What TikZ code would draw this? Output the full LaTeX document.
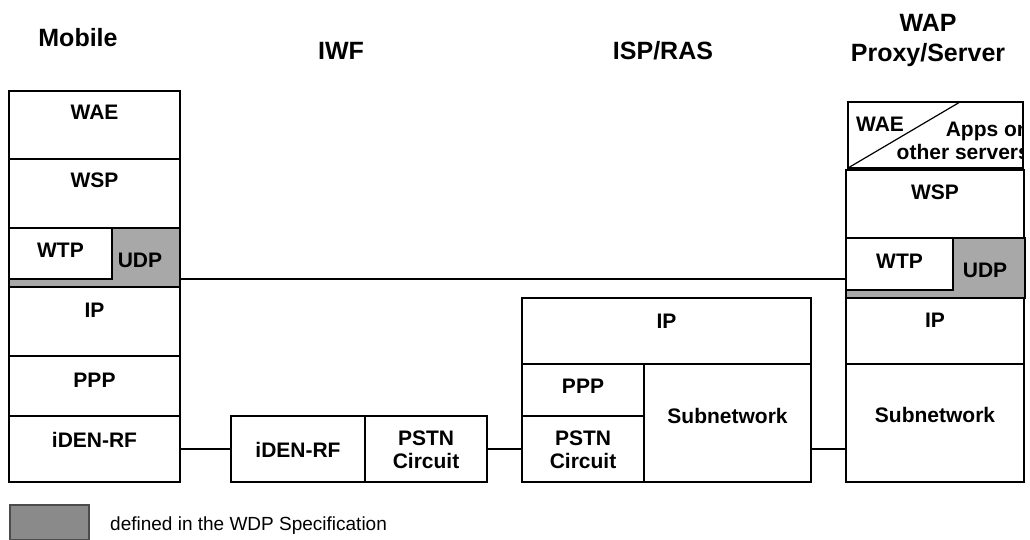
\documentclass[tikz,border=0pt]{standalone}
\usepackage{fontspec}
\setmainfont{Liberation Sans}
\usetikzlibrary{fit,calc,positioning}
\definecolor{udpgray}{RGB}{168,168,168}
\definecolor{keygray}{RGB}{138,138,138}

\tikzset{
  layer/.style={draw, fill=white, line width=1.4pt, inner sep=0pt, outer sep=0pt},
  wdp/.style={layer, fill=udpgray},
  lbl/.style={font=\bfseries\fontsize{21}{23}\selectfont, anchor=base, align=center, inner sep=0pt},
  head/.style={font=\bfseries\fontsize{25}{30}\selectfont, anchor=base, align=center, inner sep=0pt},
  link/.style={line width=1.2pt}
}

% a protocol layer: name, corner, corner, text, drop of the (last) baseline
\newcommand{\layer}[5]{%
  \node[layer, fit={(#2) (#3)}] (#1) {};
  \node[lbl] (#1-t) at ([yshift=-#5]#1.north) {#4};}

\begin{document}
\begin{tikzpicture}[x=1pt,y=-1pt]
  \useasboundingbox (0,0) rectangle (1030,540);

  \node[head] (hmob) at (78,47) {Mobile};
  \node[head] (hiwf) at (341,60) {IWF};
  \node[head] (hisp) at (663,60) {ISP/RAS};
  \node[head] (hwap) at (928,62) {WAP\\Proxy/Server};

  % mobile
  \layer{mwae}{9,91}{180,159}{WAE}{29pt}
  \layer{mwsp}{9,159}{180,228}{WSP}{29pt}
  \node[wdp, fit={(9,228) (180,287)}] (mudp) {};
  \node[lbl] (mudp-t) at (140,267) {UDP};
  \layer{mwtp}{9,228}{112,279}{WTP}{29pt}
  \layer{mip}{9,287}{180,356}{IP}{30pt}
  \layer{mppp}{9,356}{180,416}{PPP}{31pt}
  \layer{mrf}{9,416}{180,482}{iDEN-RF}{31pt}

  % IWF
  \layer{irf}{231,416}{365,482}{iDEN-RF}{41pt}
  \layer{ipstn}{365,416}{487,482}{PSTN\\Circuit}{52pt}

  % ISP/RAS
  \layer{sip}{522,298}{811,364}{IP}{30pt}
  \layer{sppp}{522,364}{644,416}{PPP}{29pt}
  \layer{spstn}{522,416}{644,482}{PSTN\\Circuit}{52pt}
  \layer{ssub}{644,364}{811,482}{Subnetwork}{59pt}

  % proxy/server
  \node[layer, fit={(848,102) (1023,168)}] (pwae) {};
  \draw[link] (pwae.south west) -- ($(pwae.north west)!0.64!(pwae.north east)$);
  \node[lbl] (pwae-t) at (880,132) {WAE};
  \begin{scope}
    \clip (pwae.south west) rectangle (pwae.north east);
    \node[lbl, align=right, anchor=base east] (apps) at (1030,160) {Apps on\\other servers};
  \end{scope}
  \layer{pwsp}{846,170}{1024,238}{WSP}{30pt}
  \node[wdp, fit={(846,238) (1025,298)}] (pudp) {};
  \node[lbl] (pudp-t) at (985,277) {UDP};
  \layer{pwtp}{846,238}{953,290}{WTP}{30pt}
  \layer{pip}{846,298}{1024,364}{IP}{29pt}
  \layer{psub}{846,364}{1024,482}{Subnetwork}{58pt}

  % links
  \coordinate (udpline) at (0,279);
  \coordinate (subline) at (0,449);
  \draw[link] (mudp.east |- udpline) -- (pwtp.west |- udpline);
  \draw[link] (mrf.east) -- (irf.west);
  \draw[link] (ipstn.east) -- (spstn.west);
  \draw[link] (ssub.east |- subline) -- (psub.west |- subline);

  % key
  \node[layer, fill=keygray, draw=black!70, fit={(10,505) (89,540)}] (key) {};
  \node[font=\fontsize{19}{22}\selectfont, anchor=base west, inner sep=0pt] (key-t) at (110,530) {defined in the WDP Specification};
\end{tikzpicture}
\end{document}
